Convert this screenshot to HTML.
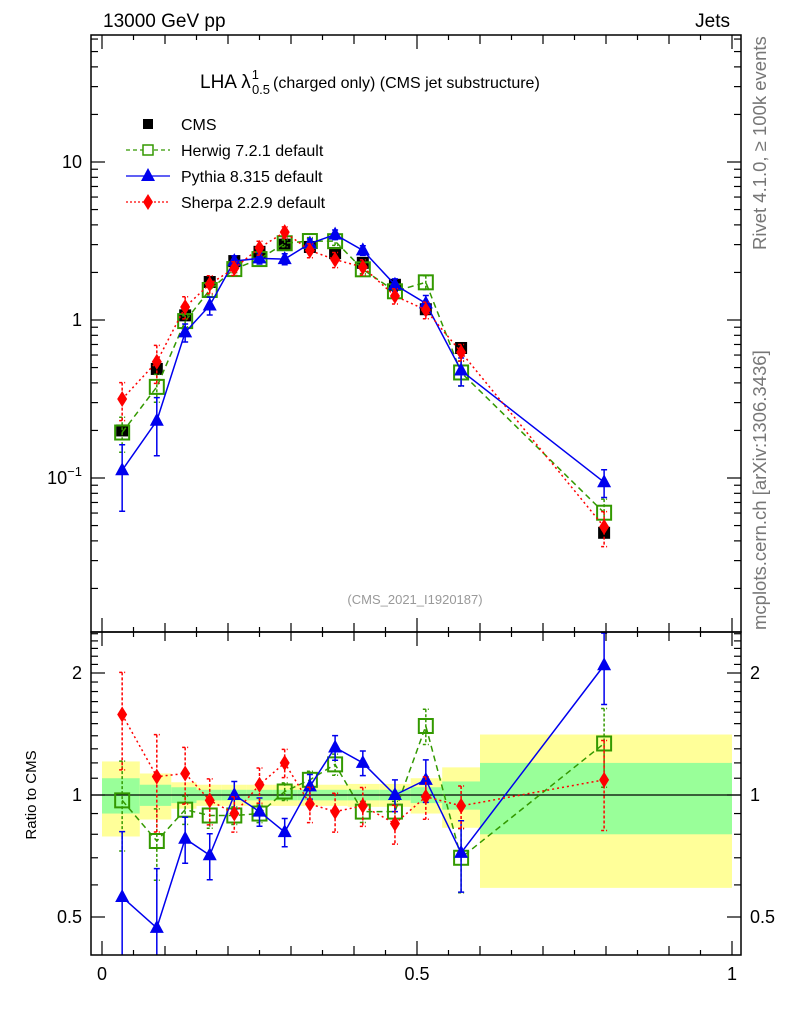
<!DOCTYPE html>
<html><head><meta charset="utf-8"><style>
html,body{margin:0;padding:0;background:#fff}
svg{display:block;font-family:"Liberation Sans",sans-serif}
</style></head><body>
<svg id="c" width="786" height="1024" viewBox="0 0 786 1024">
<text x="103" y="27" font-size="19">13000 GeV pp</text>
<text x="730" y="27" font-size="19" text-anchor="end">Jets</text>
<text x="200" y="88" font-size="19">LHA λ<tspan font-size="13" dy="-9" dx="1">1</tspan><tspan font-size="13" dy="15" dx="-7">0.5</tspan><tspan font-size="16" dy="-6" dx="3">(charged only) (CMS jet substructure)</tspan></text>
<text x="415" y="604" font-size="13" fill="#999" text-anchor="middle">(CMS_2021_I1920187)</text>
<text transform="translate(766,250) rotate(-90)" font-size="18.5" fill="#777">Rivet 4.1.0, ≥ 100k events</text>
<text transform="translate(766,630) rotate(-90)" font-size="18.5" fill="#777">mcplots.cern.ch [arXiv:1306.3436]</text>
<text transform="translate(36,795) rotate(-90)" font-size="15" text-anchor="middle">Ratio to CMS</text>
<g id="g"></g>
</svg>
<script>
const xc=[0.032,0.087,0.132,0.171,0.21,0.25,0.29,0.33,0.37,0.414,0.465,0.514,0.57,0.797];
const edges=[0,0.06,0.11,0.15,0.19,0.23,0.27,0.31,0.35,0.39,0.44,0.49,0.54,0.6,1];
const cms=[0.20,0.49,1.07,1.74,2.36,2.7,3.0,2.9,2.65,2.3,1.67,1.17,0.665,0.045];
const bandGreen=[0.10,0.06,0.045,0.03,0.03,0.03,0.03,0.03,0.03,0.03,0.03,0.045,0.08,0.2];
const bandYellow=[0.21,0.13,0.075,0.06,0.06,0.06,0.06,0.06,0.06,0.065,0.065,0.1,0.17,0.41];
const herwigRatio=[0.97,0.77,0.92,0.89,0.89,0.9,1.02,1.09,1.19,0.91,0.91,1.48,0.70,1.34];
const pythiaRatio=[0.56,0.47,0.78,0.71,1.0,0.91,0.81,1.05,1.31,1.2,1.0,1.09,0.72,2.09];
const sherpaRatio=[1.58,1.11,1.13,0.97,0.9,1.06,1.2,0.95,0.91,0.94,0.85,0.99,0.94,1.09];
const herwigErr=[0.25,0.2,0.08,0.07,0.05,0.05,0.05,0.05,0.06,0.06,0.06,0.1,0.18,0.22];
const pythiaErr=[0.45,0.4,0.13,0.13,0.08,0.08,0.08,0.07,0.07,0.07,0.09,0.12,0.2,0.2];
const sherpaErr=[0.27,0.27,0.16,0.13,0.1,0.1,0.08,0.1,0.11,0.11,0.11,0.12,0.12,0.25];
const xTicksMajor=[0,0.5,1];const xTickLabels=["0","0.5","1"];
const yTicksMain=[0.1,1,10];const yTickLabelsMain=["10^-1","1","10"];
const yTicksRatio=[0.5,1,2];const yTickLabelsRatio=["0.5","1","2"];

const NS="http://www.w3.org/2000/svg";const G=document.getElementById('g');
const L=91,R=741,T=35,M=632,B=955;
const X=v=>102+v*630;
const Y=v=>320-158*Math.log10(v);
const YR=v=>795-122*Math.log2(v);
function el(t,a,p){const e=document.createElementNS(NS,t);for(const k in a)e.setAttribute(k,a[k]);(p||G).appendChild(e);return e;}
for(let i=0;i<xc.length;i++){
 const r=el('rect',{x:X(edges[i]),width:X(edges[i+1])-X(edges[i]),y:YR(1+bandYellow[i]),height:YR(1-bandYellow[i])-YR(1+bandYellow[i]),fill:'#ffff99'});
 
 const g=el('rect',{x:X(edges[i]),width:X(edges[i+1])-X(edges[i]),y:YR(1+bandGreen[i]),height:YR(1-bandGreen[i])-YR(1+bandGreen[i]),fill:'#99ff99'});
 
}
const ref=el('line',{x1:L,x2:R,y1:YR(1),y2:YR(1),stroke:'#000','stroke-width':1.2});

const defs=el('defs',{});
const c1=el('clipPath',{id:'cm'},defs);el('rect',{x:L,y:T,width:R-L,height:M-T},c1);
const c2=el('clipPath',{id:'cr'},defs);el('rect',{x:L,y:M,width:R-L,height:B-M},c2);
function marker(type,x,y,col,par){
 let e;
 if(type==='sq')e=el('rect',{x:x-6,y:y-6,width:12,height:12,fill:'#000'},par);
 else if(type==='osq')e=el('rect',{x:x-7,y:y-7,width:14,height:14,fill:'none',stroke:col,'stroke-width':2},par);
 else if(type==='tri')e=el('path',{d:`M${x},${y-8}L${x+7},${y+5}L${x-7},${y+5}Z`,fill:col},par);
 else e=el('path',{d:`M${x},${y-8}L${x+5},${y}L${x},${y+8}L${x-5},${y}Z`,fill:col},par);
 return e;
}
const series=[
 {name:'herwig',ratio:herwigRatio,err:herwigErr,col:'#339900',dash:'6,4',m:'osq',w:1.5},
 {name:'pythia',ratio:pythiaRatio,err:pythiaErr,col:'#0000ee',dash:'',m:'tri',w:1.5},
 {name:'sherpa',ratio:sherpaRatio,err:sherpaErr,col:'#ff0000',dash:'2,3',m:'dia',w:1.5}];
const gm=el('g',{'clip-path':'url(#cm)'});const gr=el('g',{'clip-path':'url(#cr)'});
xc.forEach((x,i)=>{const m=marker('sq',X(x),Y(cms[i]),'#000',gm);});
series.forEach(s=>{
 [[gm,Y],[gr,YR]].forEach(([par,fy])=>{
  const vals=xc.map((x,i)=>s.ratio[i]*(par===gm?cms[i]:1));
  const pl=el('polyline',{points:xc.map((x,i)=>X(x)+','+fy(vals[i])).join(' '),fill:'none',stroke:s.col,'stroke-width':s.w,'stroke-dasharray':s.dash},par);
  
  xc.forEach((x,i)=>{
   const v=vals[i],hi=fy(v*(1+s.err[i])),lo=fy(Math.max(v*(1-s.err[i]),1e-4));
   const eb=el('path',{d:`M${X(x)},${hi}V${lo}M${X(x)-3},${hi}h6M${X(x)-3},${lo}h6`,stroke:s.col,'stroke-width':1.5,fill:'none','stroke-dasharray':s.dash?'3,2':''},par);
   
   const mk=marker(s.m,X(x),fy(v),s.col,par);
   
  });
 });
});
const f1=el('rect',{x:L,y:T,width:R-L,height:M-T,fill:'none',stroke:'#000','stroke-width':1.5});

const f2=el('rect',{x:L,y:M,width:R-L,height:B-M,fill:'none',stroke:'#000','stroke-width':1.5});

function tk(x1,y1,x2,y2){el('line',{x1,y1,x2,y2,stroke:'#000','stroke-width':1.2});}
for(let k=0;k<=20;k++){const v=k*0.05,x=X(v);const len=k%10===0?14:(k%2===0?9:5);
 [T,M].forEach(t=>tk(x,t,x,t+len));[M,B].forEach(b=>tk(x,b,x,b-len));}
xTicksMajor.forEach((v,i)=>{const t=el('text',{x:X(v),y:980,'font-size':18,'text-anchor':'middle'});t.textContent=xTickLabels[i];});
for(let d=-2;d<=1;d++)for(let m=1;m<=9;m++){const v=m*Math.pow(10,d),y=Y(v);if(y<T||y>M)continue;const len=m===1?14:7;tk(L,y,L+len,y);tk(R,y,R-len,y);}
yTicksMain.forEach((v,i)=>{const y=Y(v);const t=el('text',{x:82,y:y+6,'font-size':18,'text-anchor':'end'});
 if(yTickLabelsMain[i].includes('^')){const p=yTickLabelsMain[i].split('^');t.textContent=p[0];const s=el('tspan',{dy:-8,'font-size':13},t);s.textContent='−1';}else t.textContent=yTickLabelsMain[i];
 });
[0.4,0.5,0.6,0.7,0.8,0.9,1,1.1,1.2,1.3,1.4,1.5,1.6,1.7,1.8,1.9,2,2.1,2.2,2.3,2.4,2.5].forEach(v=>{const y=YR(v);if(y<M||y>B)return;const len=(v===0.5||v===1||v===2)?14:7;tk(L,y,L+len,y);tk(R,y,R-len,y);});
yTicksRatio.forEach((v,i)=>{const y=YR(v);[[82,'end'],[750,'start']].forEach(([x,a])=>{const t=el('text',{x,y:y+6,'font-size':18,'text-anchor':a});t.textContent=yTickLabelsRatio[i];});});
const leg=[['CMS','#000','','sq'],['Herwig 7.2.1 default','#339900','4,3','osq'],['Pythia 8.315 default','#0000ee','','tri'],['Sherpa 2.2.9 default','#ff0000','2,2','dia']];
leg.forEach((l,i)=>{const y=124+i*26;const g=el('g',{});
 if(i>0)el('line',{x1:126,x2:170,y1:y,y2:y,stroke:l[1],'stroke-width':1.3,'stroke-dasharray':l[2]},g);
 if(l[3]==='sq')el('rect',{x:143,y:y-5,width:10,height:10,fill:'#000'},g);
 else if(l[3]==='osq')el('rect',{x:143,y:y-5,width:10,height:10,fill:'#fff',stroke:l[1],'stroke-width':1.5},g);
 else marker(l[3],148,y,l[1],g);
 const t=el('text',{x:181,y:y+6,'font-size':16},g);t.textContent=l[0];});
</script>
</body></html>
